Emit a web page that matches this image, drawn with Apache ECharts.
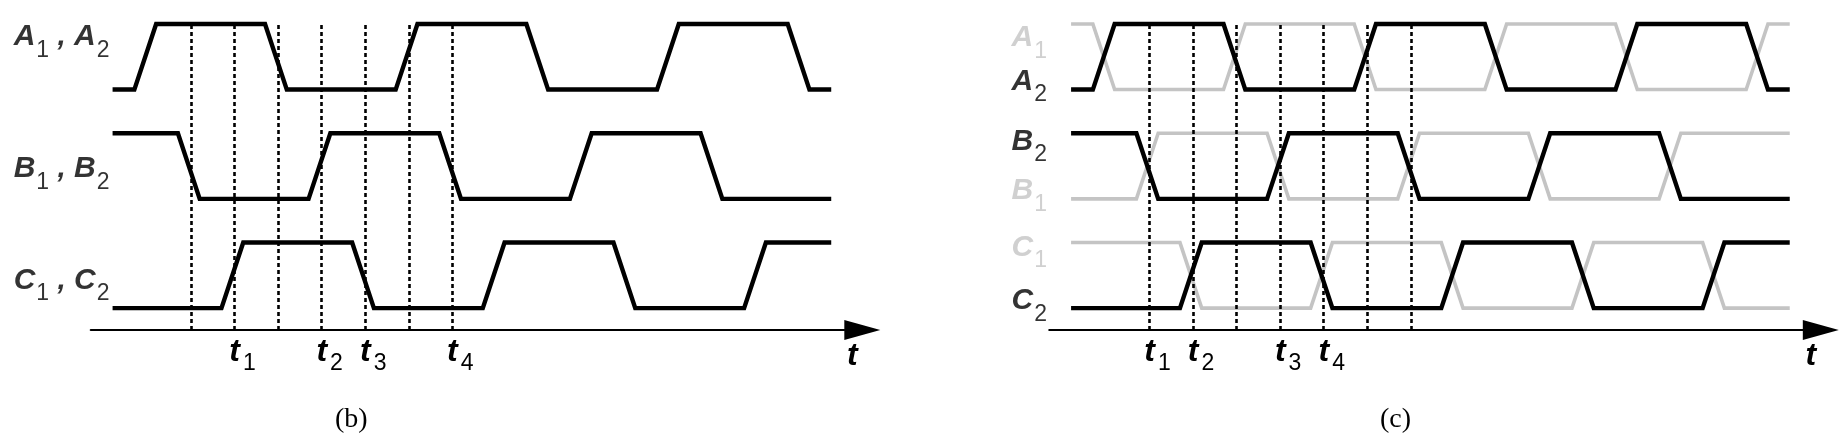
<!DOCTYPE html>
<html>
<head>
<meta charset="utf-8">
<script src="https://cdn.jsdelivr.net/npm/echarts@6/dist/echarts.min.js"></script>
<style>
  html, body { margin: 0; padding: 0; background: #fff; }
  #main { width: 1847px; height: 446px; }
</style>
</head>
<body>
<div id="main"></div>
<script>
// time is counted in steps of the dashed lines, level 0 = low, 1 = high
var tA = [-1.8, -1.3, -0.8, 1.7, 2.2, 4.7, 5.2, 7.7, 8.2, 10.7, 11.2, 13.7, 14.2, 14.7]
var levelA = [0, 0, 1, 1, 0, 0, 1, 1, 0, 0, 1, 1, 0, 0]
var levelAbar = [1, 1, 0, 0, 1, 1, 0, 0, 1, 1, 0, 0, 1, 1]

var tB = [-1.8, -0.3, 0.2, 2.7, 3.2, 5.7, 6.2, 8.7, 9.2, 11.7, 12.2, 14.7]
var levelB = [1, 1, 0, 0, 1, 1, 0, 0, 1, 1, 0, 0]
var levelBbar = [0, 0, 1, 1, 0, 0, 1, 1, 0, 0, 1, 1]

var tC = [-1.8, 0.7, 1.2, 3.7, 4.2, 6.7, 7.2, 9.7, 10.2, 12.7, 13.2, 14.7]
var levelC = [0, 0, 1, 1, 0, 0, 1, 1, 0, 0, 1, 1]
var levelCbar = [1, 1, 0, 0, 1, 1, 0, 0, 1, 1, 0, 0]

// dashed lines and which of them carry t1..t4
var dashT = [0, 1, 2, 3, 4, 5, 6]
var tickNames = ['1', '2', '3', '4']
var ticksB = [1, 3, 4, 6]
var ticksC = [0, 1, 3, 4]

// signal names
var namesB = ['A', 'B', 'C']
var namesC = [['A', '1'], ['A', '2'], ['B', '2'], ['B', '1'], ['C', '1'], ['C', '2']]

// layout (y is counted in thirds of a swing, axis at 0)
var rowBase = { A: 11, B: 6, C: 1 }
var swing = 3
var labelYB = [13.4, 7.36, 2.26]
var labelYC = [13.37, 11.37, 8.62, 6.37, 3.77, 1.32]
var FONT = 'Liberation Sans'
var BLACK = '#000000'
var GRAY = '#c4c4c4'

function wave(ts, levels, base) {
  return ts.map(function (t, i) { return [t, base + swing * levels[i]] })
}

var tRich = {
  t: { fontSize: 32, fontWeight: 'bold', fontStyle: 'italic', fontFamily: FONT, color: BLACK,
       lineHeight: 32, verticalAlign: 'top', padding: [0, 0, 0, 16] },
  s: { fontSize: 23, fontFamily: FONT, color: BLACK, lineHeight: 23, verticalAlign: 'top', padding: [16, 0, 0, 3] }
}
var nameRich = {
  m: { fontSize: 30, fontWeight: 'bold', fontStyle: 'italic', fontFamily: FONT, lineHeight: 30, verticalAlign: 'top' },
  s: { fontSize: 23, fontFamily: FONT, lineHeight: 23, verticalAlign: 'top', padding: [17, 0, 0, 1] }
}

function dashes(ticks) {
  return dashT.map(function (k) {
    var i = ticks.indexOf(k)
    if (i < 0) return { xAxis: k, label: { show: false } }
    return { xAxis: k, label: { show: true, formatter: '{t|t}{s|' + tickNames[i] + '}' } }
  })
}

function markDashes(ticks) {
  return {
    silent: true,
    animation: false,
    symbol: ['none', 'none'],
    lineStyle: { color: BLACK, width: 2.6, type: [4, 3] },
    emphasis: { disabled: true },
    label: { position: 'start', distance: 6, rich: tRich },
    data: dashes(ticks)
  }
}

function xAxisFor(idx) {
  return {
    gridIndex: idx, type: 'value', min: -2.3, max: 15,
    splitLine: { show: false }, axisTick: { show: false }, axisLabel: { show: false },
    axisLine: {
      onZero: false,
      symbol: ['none', 'triangle'], symbolSize: [20, 36], symbolOffset: [0, 18],
      lineStyle: { color: BLACK, width: 2.2 }
    },
    name: 't', nameLocation: 'end', nameGap: 8,
    nameTextStyle: { fontSize: 32, fontWeight: 'bold', fontStyle: 'italic', fontFamily: FONT, color: BLACK,
                     align: 'center', verticalAlign: 'top', padding: [10, 0, 0, 0] }
  }
}

function line(name, idx, data, color, width, z) {
  return {
    name: name, type: 'line', xAxisIndex: idx, yAxisIndex: idx, data: data,
    showSymbol: false, clip: false, animation: false, z: z,
    lineStyle: { color: color, width: width, join: 'miter', cap: 'butt' }
  }
}

var series = []
// panel (b)
var sA = line('A', 0, wave(tA, levelA, rowBase.A), BLACK, 4.4, 3)
sA.markLine = markDashes(ticksB)
series.push(sA)
series.push(line('B', 0, wave(tB, levelB, rowBase.B), BLACK, 4.4, 3))
series.push(line('C', 0, wave(tC, levelC, rowBase.C), BLACK, 4.4, 3))
series.push({
  type: 'scatter', xAxisIndex: 0, yAxisIndex: 0, symbolSize: 0, clip: false, animation: false, silent: true,
  label: { show: true, position: 'left', distance: 3, color: BLACK, rich: nameRich },
  data: namesB.map(function (n, i) {
    return { value: [-1.8, labelYB[i]], label: { formatter: '{m|' + n + '}{s|1}{m| , ' + n + '}{s|2}' } }
  })
})

// panel (c)
series.push(line('A1', 1, wave(tA, levelAbar, rowBase.A), GRAY, 3.6, 2))
series.push(line('B1', 1, wave(tB, levelBbar, rowBase.B), GRAY, 3.6, 2))
series.push(line('C1', 1, wave(tC, levelCbar, rowBase.C), GRAY, 3.6, 2))
var sA2 = line('A2', 1, wave(tA, levelA, rowBase.A), BLACK, 4.4, 3)
sA2.markLine = markDashes(ticksC)
series.push(sA2)
series.push(line('B2', 1, wave(tB, levelB, rowBase.B), BLACK, 4.4, 3))
series.push(line('C2', 1, wave(tC, levelC, rowBase.C), BLACK, 4.4, 3))
series.push({
  type: 'scatter', xAxisIndex: 1, yAxisIndex: 1, symbolSize: 0, clip: false, animation: false, silent: true,
  label: { show: true, position: 'left', distance: 24, rich: nameRich },
  data: namesC.map(function (n, i) {
    return {
      value: [-1.8, labelYC[i]],
      label: { color: n[1] === '1' ? GRAY : BLACK, formatter: '{m|' + n[0] + '}{s|' + n[1] + '}' }
    }
  })
})

var myChart = echarts.init(document.getElementById('main'))
myChart.setOption({
  animation: false,
  backgroundColor: '#fff',
  title: [
    { text: '(b)', left: 330, top: 401, textStyle: { fontFamily: 'Liberation Serif', fontSize: 28, fontWeight: 'normal', color: BLACK } },
    { text: '(c)', left: 1375, top: 401, textStyle: { fontFamily: 'Liberation Serif', fontSize: 28, fontWeight: 'normal', color: BLACK } }
  ],
  grid: [
    { left: 90.8, top: 24, width: 753.5, height: 306, outerBoundsMode: 'none' },
    { left: 1049.3, top: 24, width: 753.5, height: 306, outerBoundsMode: 'none' }
  ],
  xAxis: [xAxisFor(0), xAxisFor(1)],
  yAxis: [
    { gridIndex: 0, type: 'value', min: 0, max: 14, show: false },
    { gridIndex: 1, type: 'value', min: 0, max: 14, show: false }
  ],
  series: series
})
</script>
</body>
</html>
